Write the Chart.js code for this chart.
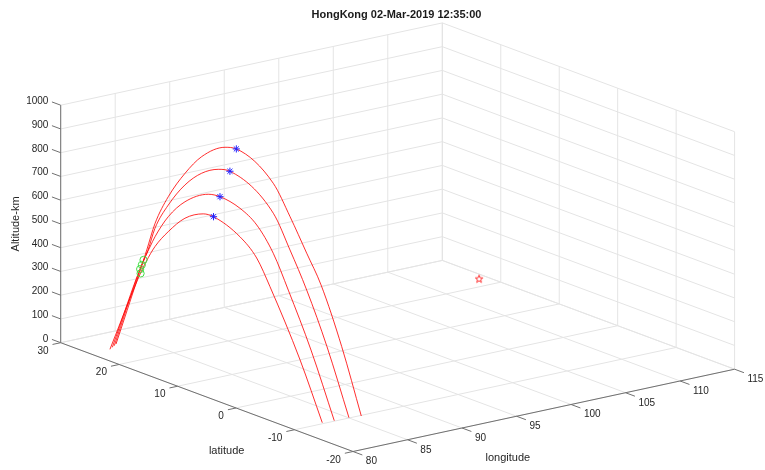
<!DOCTYPE html>
<html>
<head>
<meta charset="utf-8">
<script src="https://cdn.jsdelivr.net/npm/chart.js@4.4.1/dist/chart.umd.min.js"></script>
<style>
html,body{margin:0;padding:0;background:#ffffff;}
canvas{display:block;}
</style>
</head>
<body>
<canvas id="c" width="765" height="470"></canvas>
<script>
// ---------------- data ----------------
const titleText = 'HongKong 02-Mar-2019 12:35:00';
const lonLabel = 'longitude';
const latLabel = 'latitude';
const altLabel = 'Altitude-km';

const lonTicks = [80, 85, 90, 95, 100, 105, 110, 115];
const latTicks = [30, 20, 10, 0, -10, -20];
const altTicks = [0, 100, 200, 300, 400, 500, 600, 700, 800, 900, 1000];

// trajectories (longitude deg, latitude deg, altitude km)
const track1Lon = [83.01, 83.28, 83.39, 83.49, 83.65, 83.86, 84.06, 84.35, 84.49, 84.94, 85.15, 85.35, 85.53, 85.78, 86.02];
const track1Lat = [26.15, 22.89, 21.60, 20.37, 18.40, 15.93, 13.45, 10.00, 8.33, 2.85, 0.37, -2.10, -4.22, -7.29, -10.19];
const track1Alt = [0, 309, 434, 556, 685, 804, 895, 963, 970, 871, 751, 618, 502, 268, 0];

const track2Lon = [82.64, 82.90, 82.99, 83.06, 83.19, 83.36, 83.53, 83.70, 83.82, 84.27, 84.44, 84.61, 84.82, 85.04];
const track2Lat = [25.76, 21.93, 20.64, 19.58, 17.55, 15.02, 12.48, 9.96, 8.18, 1.59, -0.94, -3.48, -6.57, -9.91];
const track2Alt = [0, 347, 446, 547, 662, 768, 839, 877, 884, 763, 630, 483, 270, 0];

const track3Lon = [82.28, 82.47, 82.52, 82.56, 82.64, 82.75, 82.90, 82.98, 83.11, 83.22, 83.32, 83.42, 83.57, 83.72];
const track3Lat = [25.42, 20.78, 19.43, 18.64, 16.52, 13.87, 10.17, 8.31, 5.13, 2.47, -0.17, -2.55, -6.16, -9.86];
const track3Alt = [0, 387, 475, 525, 628, 714, 778, 784, 763, 716, 620, 486, 265, 0];

const track4Lon = [81.83, 81.95, 81.98, 82.02, 82.07, 82.14, 82.22, 82.26, 82.37, 82.44, 82.49, 82.62, 82.71];
const track4Lat = [24.99, 20.42, 19.11, 17.64, 15.47, 12.74, 9.75, 8.08, 3.76, 1.03, -1.15, -6.06, -9.69];
const track4Alt = [0, 337, 420, 498, 580, 661, 706, 709, 663, 598, 497, 232, 0];

// green circle markers on each trajectory
const circleLon = [83.35, 82.92, 82.46, 81.96];
const circleLat = [22.08, 21.57, 21.00, 19.99];
const circleAlt = [388, 376, 368, 364];

// station (Hong Kong)
const stationLon = [114.3];
const stationLat = [22.4];
const stationAlt = [0];

// ---------------- view (orthographic projection of the 3-D box) ----------------
const LON_MIN = lonTicks[0], LON_MAX = lonTicks[lonTicks.length - 1];
const LAT_MAX = latTicks[0], LAT_MIN = latTicks[latTicks.length - 1];
const ALT_MIN = altTicks[0], ALT_MAX = altTicks[altTicks.length - 1];
const VIEW = {
  ox: 60.7, oy: 342.7,          // screen of (LON_MIN, LAT_MAX, ALT_MIN)
  lonDx: 10.903, lonDy: -2.351, // per degree of longitude
  latDx: -5.846, latDy: -2.176, // per degree of latitude
  altDy: -0.2375                // per km
};
function proj(lon, lat, alt) {
  const a = lon - LON_MIN, b = lat - LAT_MAX, c = alt - ALT_MIN;
  return { x: VIEW.ox + a * VIEW.lonDx + b * VIEW.latDx,
           y: VIEW.oy + a * VIEW.lonDy + b * VIEW.latDy + c * VIEW.altDy };
}

const FONT = "'Liberation Sans', Arial, Helvetica, sans-serif";
const GRID_COLOR = '#e4e4e4';
const AXIS_COLOR = '#707070';
const TEXT_COLOR = '#262626';

const datasets = [];
function lineDs(pts, color, order) {
  datasets.push({ data: pts, showLine: true, borderColor: color, borderWidth: 1,
    pointRadius: 0, pointHoverRadius: 0, fill: false, clip: false, order: order, tension: 0 });
}
function seg(p, q, color, order) { lineDs([proj(...p), proj(...q)], color, order); }

// grid: back-left wall (lat = max), back-right wall (lon = max), floor
lonTicks.forEach(lon => seg([lon, LAT_MAX, ALT_MIN], [lon, LAT_MAX, ALT_MAX], GRID_COLOR, 30));
altTicks.forEach(alt => seg([LON_MIN, LAT_MAX, alt], [LON_MAX, LAT_MAX, alt], GRID_COLOR, 30));
latTicks.forEach(lat => seg([LON_MAX, lat, ALT_MIN], [LON_MAX, lat, ALT_MAX], GRID_COLOR, 30));
altTicks.forEach(alt => seg([LON_MAX, LAT_MAX, alt], [LON_MAX, LAT_MIN, alt], GRID_COLOR, 30));
lonTicks.forEach(lon => seg([lon, LAT_MAX, ALT_MIN], [lon, LAT_MIN, ALT_MIN], GRID_COLOR, 30));
latTicks.forEach(lat => seg([LON_MIN, lat, ALT_MIN], [LON_MAX, lat, ALT_MIN], GRID_COLOR, 30));

// axes lines
seg([LON_MIN, LAT_MAX, ALT_MIN], [LON_MIN, LAT_MAX, ALT_MAX], AXIS_COLOR, 20);
seg([LON_MIN, LAT_MAX, ALT_MIN], [LON_MIN, LAT_MIN, ALT_MIN], AXIS_COLOR, 20);
seg([LON_MIN, LAT_MIN, ALT_MIN], [LON_MAX, LAT_MIN, ALT_MIN], AXIS_COLOR, 20);

// tick marks
const ALT_TICK = 1.5, LAT_TICK = 0.75, LON_TICK = 1.6;
const labels = [];
altTicks.forEach(alt => {
  const q = [LON_MIN, LAT_MAX + ALT_TICK, alt];
  seg([LON_MIN, LAT_MAX, alt], q, AXIS_COLOR, 20);
  const e = proj(...q);
  labels.push({ text: String(alt), x: e.x - 3.5, y: e.y - 0.5, align: 'right' });
});
latTicks.forEach(lat => {
  const q = [LON_MIN - LAT_TICK, lat, ALT_MIN];
  seg([LON_MIN, lat, ALT_MIN], q, AXIS_COLOR, 20);
  const e = proj(...q);
  labels.push({ text: String(lat), x: e.x - 4, y: e.y + 6.5, align: 'right' });
});
lonTicks.forEach(lon => {
  const q = [lon, LAT_MIN - LON_TICK, ALT_MIN];
  seg([lon, LAT_MIN, ALT_MIN], q, AXIS_COLOR, 20);
  const e = proj(...q);
  labels.push({ text: String(lon), x: e.x + 3.5, y: e.y + 6.6, align: 'left' });
});

// trajectories
const tracks = [
  [track1Lon, track1Lat, track1Alt],
  [track2Lon, track2Lat, track2Alt],
  [track3Lon, track3Lat, track3Alt],
  [track4Lon, track4Lat, track4Alt]
];
const peaks = [];
tracks.forEach(([lo, la, al]) => {
  const pts = lo.map((v, i) => proj(v, la[i], al[i]));
  datasets.push({ data: pts, showLine: true, borderColor: 'rgba(255,0,0,0.82)', borderWidth: 1,
    pointRadius: 0, pointHoverRadius: 0, fill: false, clip: false, order: 10,
    tension: 0.4, cubicInterpolationMode: 'monotone' });
  let k = 0;
  al.forEach((v, i) => { if (v > al[k]) k = i; });
  peaks.push(proj(lo[k], la[k], al[k]));
});

// peak markers (blue asterisks)
datasets.push({ data: peaks, showLine: false, pointStyle: 'star', pointRadius: 3.6,
  borderColor: '#2020ff', backgroundColor: '#2020ff', borderWidth: 1, clip: false, order: 2 });

// green circles
datasets.push({ data: circleLon.map((v, i) => proj(v, circleLat[i], circleAlt[i])), showLine: false,
  pointStyle: 'circle', pointRadius: 3.6, borderColor: '#44dd44', backgroundColor: 'rgba(0,0,0,0)',
  borderWidth: 1, clip: false, order: 3 });

// station pentagram
function pentagram(size, color) {
  const cv = document.createElement('canvas');
  cv.width = size; cv.height = size;
  const g = cv.getContext('2d');
  const cx = size / 2, cy = size / 2 + 0.5, R = size / 2 - 1, r = R * 0.42;
  g.beginPath();
  for (let i = 0; i < 10; i++) {
    const ang = -Math.PI / 2 + i * Math.PI / 5;
    const rr = i % 2 === 0 ? R : r;
    const px = cx + rr * Math.cos(ang), py = cy + rr * Math.sin(ang);
    if (i === 0) g.moveTo(px, py); else g.lineTo(px, py);
  }
  g.closePath();
  g.strokeStyle = color; g.lineWidth = 1; g.stroke();
  return cv;
}
datasets.push({ data: stationLon.map((v, i) => proj(v, stationLat[i], stationAlt[i])), showLine: false,
  pointStyle: pentagram(10, '#ff3030'), pointRadius: 5, clip: false, order: 1 });

// axis titles anchored on axis midpoints
const midLat = proj(LON_MIN, (LAT_MAX + LAT_MIN) / 2, ALT_MIN);
const midLon = proj((LON_MIN + LON_MAX) / 2, LAT_MIN, ALT_MIN);
const midAlt = proj(LON_MIN, LAT_MAX, (ALT_MIN + ALT_MAX) / 2);

const textPlugin = {
  id: 'axisText',
  afterDatasetsDraw(chart) {
    const ctx = chart.ctx, sx = chart.scales.x, sy = chart.scales.y;
    const P = (x, y) => [sx.getPixelForValue(x), sy.getPixelForValue(y)];
    ctx.save();
    ctx.fillStyle = TEXT_COLOR;
    ctx.font = '10px ' + FONT;
    ctx.textBaseline = 'middle';
    labels.forEach(l => {
      const [x, y] = P(l.x, l.y);
      ctx.textAlign = l.align;
      ctx.fillText(l.text, x, y);
    });
    ctx.font = '11px ' + FONT;
    ctx.textAlign = 'center';
    let [x, y] = P(midLat.x + 19.8, midLat.y + 53.6);
    ctx.fillText(latLabel, x, y);
    [x, y] = P(midLon.x - 36, midLon.y + 47.3);
    ctx.fillText(lonLabel, x, y);
    [x, y] = P(midAlt.x - 44.7, midAlt.y);
    ctx.translate(x, y);
    ctx.rotate(-Math.PI / 2);
    ctx.fillText(altLabel, 0, 0);
    ctx.restore();
  }
};

const TITLE_PAD_TOP = 8, TITLE_PAD_BOTTOM = 10, TITLE_SIZE = 11, TITLE_LH = 1.2;
const PLOT_TOP = TITLE_PAD_TOP + TITLE_PAD_BOTTOM + TITLE_SIZE * TITLE_LH;
const PLOT_LEFT = 28;

new Chart(document.getElementById('c'), {
  type: 'scatter',
  data: { datasets: datasets },
  options: {
    responsive: false,
    devicePixelRatio: 1,
    animation: false,
    events: [],
    layout: { autoPadding: false, padding: { left: PLOT_LEFT, top: 0, right: 0, bottom: 0 } },
    scales: {
      x: { type: 'linear', display: false, min: PLOT_LEFT, max: 765 },
      y: { type: 'linear', display: false, min: PLOT_TOP, max: 470, reverse: true }
    },
    plugins: {
      legend: { display: false },
      tooltip: { enabled: false },
      title: { display: true, text: titleText, color: '#1a1a1a',
        font: { family: FONT, size: TITLE_SIZE, weight: 'bold', lineHeight: TITLE_LH },
        padding: { top: TITLE_PAD_TOP, bottom: TITLE_PAD_BOTTOM } }
    }
  },
  plugins: [textPlugin]
});
</script>
</body>
</html>
